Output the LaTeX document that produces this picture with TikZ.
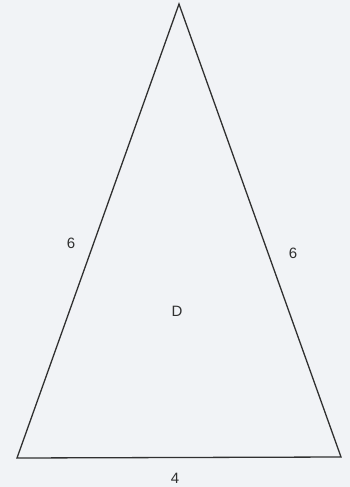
\documentclass[tikz,border=0pt]{standalone}
\usepackage{fontspec}
\setmainfont{Liberation Sans}
\definecolor{paper}{HTML}{F1F3F6}
\definecolor{ink}{HTML}{303030}
\begin{document}
\begin{tikzpicture}[x=1pt,y=-1pt,
  edge/.style={draw=ink,line width=1.3pt,line join=miter},
  lbl/.style={text=ink,font=\fontsize{15}{15}\selectfont,inner sep=0pt}]
\fill[paper] (0,0) rectangle (350,487);
\useasboundingbox (0,0) rectangle (350,487);
\coordinate (A) at (179,4);
\coordinate (B) at (17,458);
\coordinate (C) at (341,457);
\draw[edge] (A) -- (B) -- (C) -- cycle;
\node[lbl] (l1) at (71,243) {6};
\node[lbl] (l2) at (293,253) {6};
\node[lbl] (d) at (177,311) {D};
\node[lbl] (b) at (175,478) {4};
\end{tikzpicture}
\end{document}
